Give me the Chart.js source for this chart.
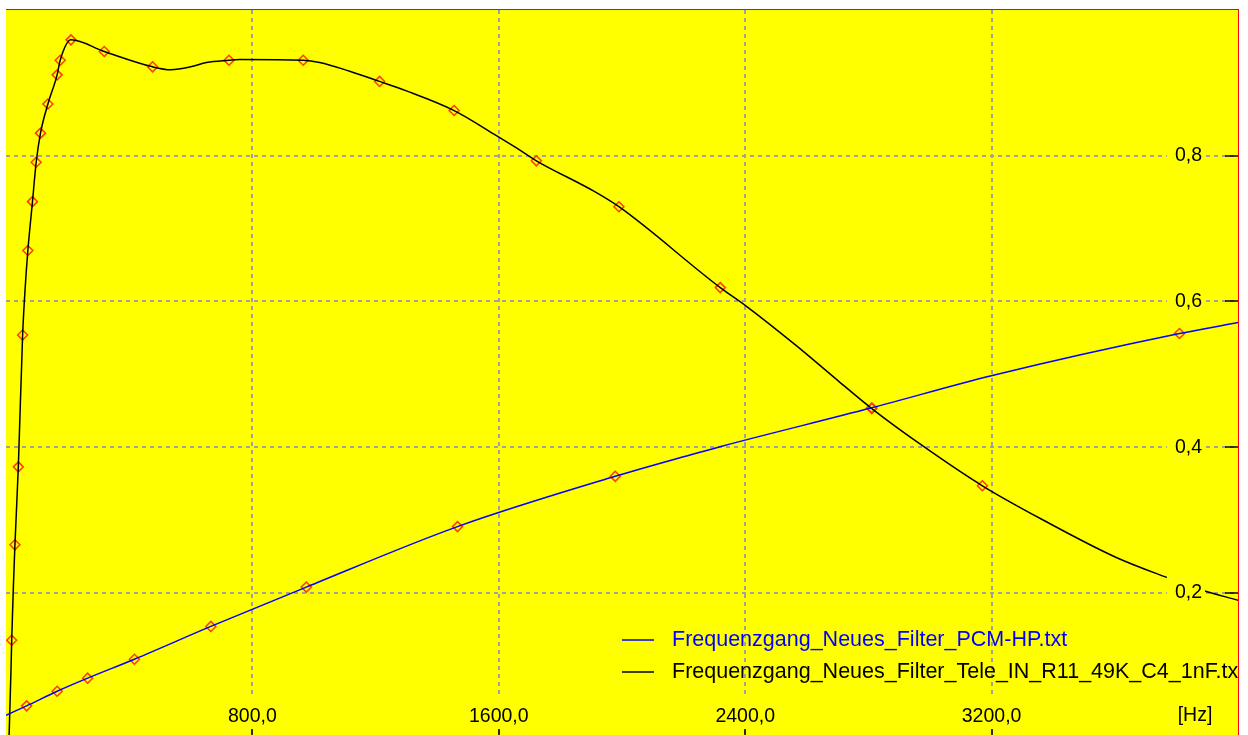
<!DOCTYPE html>
<html>
<head>
<meta charset="utf-8">
<script src="https://cdn.jsdelivr.net/npm/chart.js@4"></script>
<style>
html, body { margin: 0; padding: 0; background: #ffffff; width: 1248px; height: 735px; overflow: hidden; }
#frame { position: absolute; left: 6px; top: 9px; width: 1232px; height: 725px;
         border-top: 1px solid #ff0000; border-right: 1px solid #ff0000; background: #ffff00; }
#wrap { position: absolute; left: 0; top: 0; width: 1232px; height: 725px; }
</style>
</head>
<body>
<div id="frame"><div id="wrap"><canvas id="c"></canvas></div></div>
<script>
// ---- data ----
const seriesLabels = ['Frequenzgang_Neues_Filter_PCM-HP.txt', 'Frequenzgang_Neues_Filter_Tele_IN_R11_49K_C4_1nF.txt'];
const unitLabel = '[Hz]';

const xTickValues = [800, 1600, 2400, 3200];
const xTickLabels = ['800,0', '1600,0', '2400,0', '3200,0'];
const yTickValues = [0.2, 0.4, 0.6, 0.8];
const yTickLabels = ['0,2', '0,4', '0,6', '0,8'];
const xMin = 0, xMax = 4000;
const yMin = 0.005, yMax = 1.0;

// blue series (PCM-HP)
const blueLineHz  = [0, 67, 166, 265, 417, 665, 975, 1466, 1978, 2218, 2321, 2811, 3199, 3810, 4000];
const blueLineVal = [0.032, 0.045, 0.065, 0.083, 0.109, 0.154, 0.208, 0.291, 0.360, 0.389, 0.401, 0.454, 0.498, 0.556, 0.571];
const blueMarkHz  = [67, 166, 265, 417, 665, 975, 1466, 1978, 2811, 3810];
const blueMarkVal = [0.045, 0.065, 0.083, 0.109, 0.154, 0.208, 0.291, 0.360, 0.454, 0.556];

// black series (Tele_IN)
const blackLineHz  = [10, 16, 18.5, 24, 29, 40, 54, 62, 71, 86, 98, 112, 136, 166, 176, 211, 319, 476, 535, 600, 651, 724, 759, 965, 1018, 1116, 1213, 1300, 1455, 1591, 1656, 1722, 1910, 1990, 2319, 2402, 2564, 2702, 2811, 2979, 3170, 3372, 3603, 3764, 3889, 4000];
const blackLineVal = [0.004, 0.091, 0.135, 0.209, 0.266, 0.373, 0.554, 0.617, 0.670, 0.737, 0.791, 0.831, 0.871, 0.911, 0.931, 0.959, 0.943, 0.922, 0.918, 0.922, 0.928, 0.931, 0.932, 0.931, 0.928, 0.916, 0.902, 0.889, 0.862, 0.828, 0.811, 0.793, 0.751, 0.730, 0.619, 0.594, 0.540, 0.491, 0.453, 0.401, 0.347, 0.299, 0.249, 0.222, 0.203, 0.190];
const blackMarkHz  = [18.5, 29, 40, 54, 71, 86, 98, 112, 136, 166, 176, 211, 319, 476, 724, 965, 1213, 1455, 1722, 1990, 2319, 2811, 3170];
const blackMarkVal = [0.135, 0.266, 0.373, 0.554, 0.670, 0.737, 0.791, 0.831, 0.871, 0.911, 0.931, 0.959, 0.943, 0.922, 0.931, 0.931, 0.902, 0.862, 0.793, 0.730, 0.619, 0.453, 0.347];

// ---- chart ----
const fontFam = "'Liberation Sans', Arial, Helvetica, sans-serif";
const toXY = (xs, ys) => xs.map((x, i) => ({ x: x, y: ys[i] }));

const fileLegend = {
  id: 'fileLegend',
  afterDraw(chart, args, opts) {
    const ctx = chart.ctx;
    ctx.save();
    ctx.font = opts.fontSize + 'px ' + fontFam;
    ctx.textBaseline = 'middle';
    ctx.textAlign = 'left';
    opts.items.forEach((dsIndex, i) => {
      const ds = chart.data.datasets[dsIndex];
      const y = opts.y + i * opts.rowGap;
      ctx.strokeStyle = ds.borderColor;
      ctx.lineWidth = 1.5;
      ctx.beginPath();
      ctx.moveTo(opts.x, y);
      ctx.lineTo(opts.x + opts.lineLen, y);
      ctx.stroke();
      ctx.fillStyle = ds.borderColor;
      ctx.fillText(ds.label, opts.x + opts.lineLen + opts.gap, y);
    });
    ctx.font = opts.unitFontSize + 'px ' + fontFam;
    ctx.fillStyle = '#000000';
    ctx.textAlign = 'center';
    ctx.fillText(unitLabel, opts.unitX, opts.unitY);
    ctx.restore();
  }
};

const zeroPad = (s) => { s.paddingTop = 0; s.paddingBottom = 0; s.paddingLeft = 0; s.paddingRight = 0; };

new Chart(document.getElementById('c'), {
  type: 'line',
  data: {
    datasets: [
      { label: seriesLabels[0], data: toXY(blueLineHz, blueLineVal), borderColor: '#0000ff', borderWidth: 1.5,
        pointRadius: 0, cubicInterpolationMode: 'monotone', fill: false },
      { label: seriesLabels[1], data: toXY(blackLineHz, blackLineVal), borderColor: '#000000', borderWidth: 1.5,
        pointRadius: 0, cubicInterpolationMode: 'monotone', fill: false },
      { label: 'blue markers', data: toXY(blueMarkHz, blueMarkVal), showLine: false, pointStyle: 'rectRot',
        pointRadius: 5, pointBorderColor: '#ff3c00', pointBackgroundColor: 'rgba(0,0,0,0)', pointBorderWidth: 1.5 },
      { label: 'black markers', data: toXY(blackMarkHz, blackMarkVal), showLine: false, pointStyle: 'rectRot',
        pointRadius: 5, pointBorderColor: '#ff3c00', pointBackgroundColor: 'rgba(0,0,0,0)', pointBorderWidth: 1.5 }
    ]
  },
  options: {
    responsive: true,
    maintainAspectRatio: false,
    animation: false,
    events: [],
    layout: { padding: 0, autoPadding: false },
    plugins: {
      legend: { display: false },
      tooltip: { enabled: false },
      fileLegend: { items: [0, 1], x: 616, y: 630, rowGap: 32, lineLen: 32, gap: 18, fontSize: 21.5,
                    unitX: 1189, unitY: 706, unitFontSize: 19.5 }
    },
    scales: {
      x: {
        type: 'linear', position: 'bottom', min: xMin, max: xMax,
        afterBuildTicks: (s) => { s.ticks = xTickValues.map(v => ({ value: v })); },
        afterFit: (s) => { s.height = 0; zeroPad(s); },
        ticks: {
          mirror: true, padding: 7, autoSkip: false, maxRotation: 0, minRotation: 0,
          color: '#000000', font: { family: fontFam, size: 19.5 },
          callback: (v, i) => xTickLabels[i],
          showLabelBackdrop: true, backdropColor: '#ffff00',
          backdropPadding: { top: 8, bottom: 1, left: 3, right: 3 }, z: 1
        },
        grid: { color: '#a0a0a0', lineWidth: 2, drawTicks: true, tickLength: -8,
                tickColor: '#000000', tickWidth: 1.5, tickBorderDash: [] },
        border: { display: false, dash: [4, 4] }
      },
      y: {
        type: 'linear', position: 'right', min: yMin, max: yMax,
        afterBuildTicks: (s) => { s.ticks = yTickValues.map(v => ({ value: v })); },
        afterFit: (s) => { s.width = 0; zeroPad(s); },
        ticks: {
          mirror: true, padding: -36, autoSkip: false, crossAlign: 'near',
          color: '#000000', font: { family: fontFam, size: 19.5 },
          callback: (v, i) => yTickLabels[i],
          showLabelBackdrop: true, backdropColor: '#ffff00',
          backdropPadding: { top: 6, bottom: 3, left: 8, right: 3 }, z: 1
        },
        grid: { color: '#a0a0a0', lineWidth: 2, drawTicks: true, tickLength: -13,
                tickColor: '#000000', tickWidth: 1.5, tickBorderDash: [] },
        border: { display: false, dash: [4, 4] }
      }
    }
  },
  plugins: [fileLegend]
});
</script>
</body>
</html>
